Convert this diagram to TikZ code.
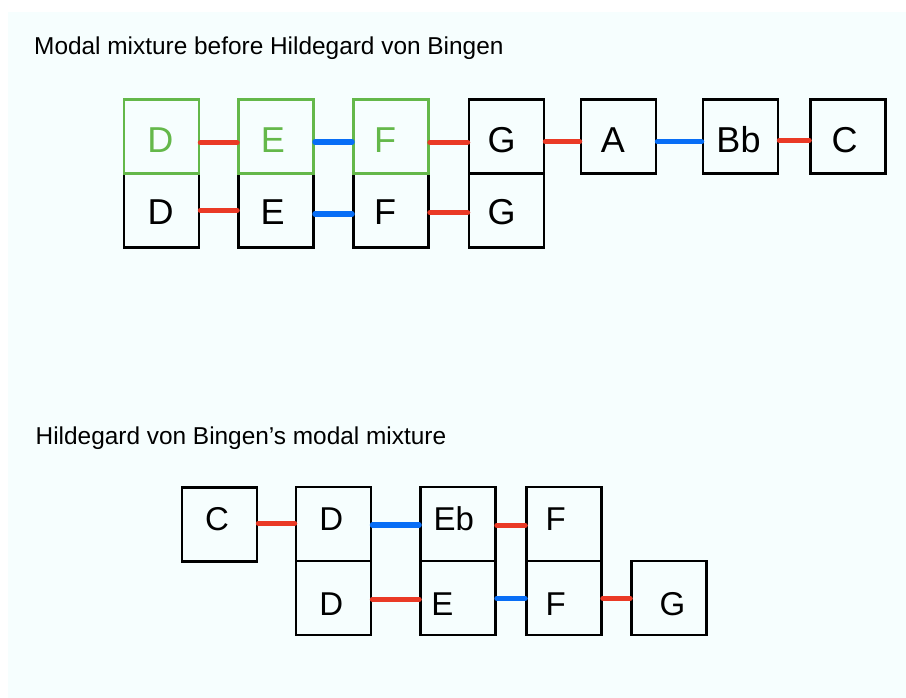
\documentclass[tikz,border=0pt]{standalone}
\usepackage{fontspec}
\setmainfont{Liberation Sans}
\definecolor{pagebg}{RGB}{246,254,254}
\definecolor{stepred}{RGB}{234,58,38}
\definecolor{stepblue}{RGB}{8,110,246}
\definecolor{modegreen}{RGB}{100,184,74}
\tikzset{
  notebox/.style={draw=black, line width=2.7pt, minimum width=75pt, minimum height=74pt, inner sep=0pt},
  greenbox/.style={notebox, draw=modegreen},
  bignote/.style={anchor=base, inner sep=0pt, font=\fontsize{36}{40}\selectfont},
  smallnote/.style={anchor=base, inner sep=0pt, font=\fontsize{33}{38}\selectfont},
  title/.style={anchor=base west, inner sep=0pt, font=\fontsize{24.4}{28}\selectfont},
  half/.style={line width=5.2pt, line cap=round, stepred},
  whole/.style={line width=5.2pt, line cap=round, stepblue}
}
\begin{document}
\begin{tikzpicture}[x=1pt,y=-1pt]
\useasboundingbox (0,0) rectangle (906,698);
\fill[pagebg] (8,12) rectangle (906,698);

% ---- first diagram: modal mixture before Hildegard ----
\node[title] (title1) at (34,55) {Modal mixture before Hildegard von Bingen};

% lower row (black)
\node[notebox] (lD) at (161.5,210.5) {};
\node[notebox] (lE) at (276,210.5) {};
\node[notebox] (lF) at (391,210.5) {};
\node[notebox] (lG) at (506.5,210.5) {};
% upper row: green boxes drawn over the shared edges
\node[notebox] (uG) at (506.5,136.5) {};
\node[notebox] (uA) at (618.5,136.5) {};
\node[notebox] (uB) at (740.5,136.5) {};
\node[notebox] (uC) at (848,136.5) {};
\node[greenbox] (uD) at (161.5,136.3) {};
\node[greenbox] (uE) at (276,136.3) {};
\node[greenbox] (uF) at (391,136.3) {};

\node[bignote, modegreen] (tuD) at (160.3,153) {D};
\node[bignote, modegreen] (tuE) at (273,153) {E};
\node[bignote, modegreen] (tuF) at (385,153) {F};
\node[bignote] (tuG) at (501.5,153) {G};
\node[bignote] (tuA) at (613,153) {A};
\node[bignote] (tuB) at (738.5,153) {Bb};
\node[bignote] (tuC) at (844.7,153) {C};
\node[bignote] (tlD) at (160.5,225) {D};
\node[bignote] (tlE) at (272.7,225) {E};
\node[bignote] (tlF) at (385,225) {F};
\node[bignote] (tlG) at (501.7,225) {G};

\draw[half]  (uD.east |- 0,142.7) -- (uE.west |- 0,142.7);
\draw[whole] (uE.east |- 0,142)   -- (uF.west |- 0,142);
\draw[half]  (uF.east |- 0,142.2) -- (uG.west |- 0,142.2);
\draw[half]  (uG.east |- 0,141.7) -- (uA.west |- 0,141.7);
\draw[whole] (uA.east |- 0,141.7) -- (uB.west |- 0,141.7);
\draw[half]  (uB.east |- 0,140.3) -- (uC.west |- 0,140.3);
\draw[half]  (lD.east |- 0,210.3) -- (lE.west |- 0,210.3);
\draw[whole] (lE.east |- 0,214)   -- (lF.west |- 0,214);
\draw[half]  (lF.east |- 0,212.7) -- (lG.west |- 0,212.7);

% ---- second diagram: Hildegard's modal mixture ----
\node[title] (title2) at (35.5,444.3) {Hildegard von Bingen’s modal mixture};

\node[notebox] (hC) at (219.5,524.3) {};
\node[notebox] (hD) at (333.5,524) {};
\node[notebox] (hEb) at (458,524) {};
\node[notebox] (hF) at (564,524) {};
\node[notebox] (kD) at (333.5,598) {};
\node[notebox] (kE) at (458,598) {};
\node[notebox] (kF) at (564,598) {};
\node[notebox] (kG) at (669,598) {};

\node[smallnote] (thC) at (217,530) {C};
\node[smallnote] (thD) at (331.3,530) {D};
\node[smallnote] (thEb) at (453.7,530) {Eb};
\node[smallnote] (thF) at (555.8,530) {F};
\node[smallnote] (tkD) at (331.3,615) {D};
\node[smallnote] (tkE) at (442.5,615) {E};
\node[smallnote] (tkF) at (555.8,615) {F};
\node[smallnote] (tkG) at (672.5,615) {G};

\draw[half]  (hC.east |- 0,523.3)  -- (hD.west |- 0,523.3);
\draw[whole] (hD.east |- 0,525)    -- (hEb.west |- 0,525);
\draw[half]  (hEb.east |- 0,525.3) -- (hF.west |- 0,525.3);
\draw[half]  (kD.east |- 0,599.3)  -- (kE.west |- 0,599.3);
\draw[whole] (kE.east |- 0,598.3)  -- (kF.west |- 0,598.3);
\draw[half]  (kF.east |- 0,598.3)  -- (kG.west |- 0,598.3);
\end{tikzpicture}
\end{document}
